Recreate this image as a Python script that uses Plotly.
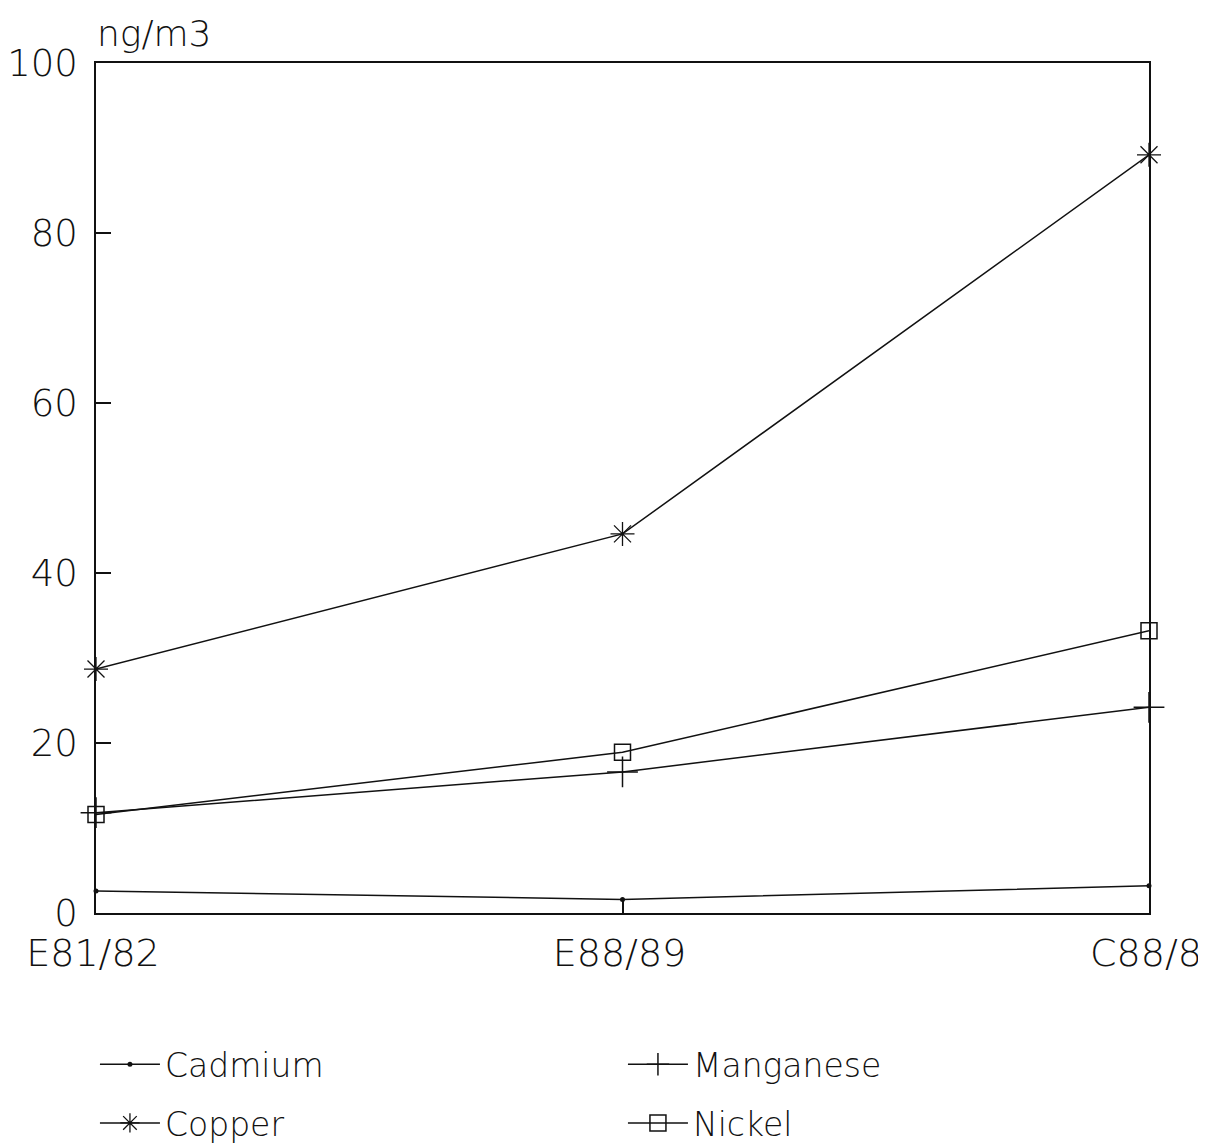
import plotly.graph_objects as go

# sampling campaigns
periods = ['E81/82', 'E88/89', 'C88/8']

# concentrations in ng/m3
cadmium = [2.6, 1.6, 3.2]
manganese = [11.8, 16.6, 24.2]
copper = [28.7, 44.6, 89.2]
nickel = [11.6, 18.9, 33.2]

FONT = 'DejaVu Sans'
INK = '#111111'

fig = go.Figure()

# two one-row legends: Cadmium | Manganese on top, Copper | Nickel below
series = [
    ('Cadmium', cadmium, 'legend', dict(symbol='circle', size=5, color=INK)),
    ('Manganese', manganese, 'legend', dict(symbol='cross-thin-open', size=22,
                                            line=dict(color=INK, width=1.5))),
    ('Copper', copper, 'legend2', dict(symbol='asterisk-open', size=20,
                                       line=dict(color=INK, width=1.3))),
    ('Nickel', nickel, 'legend2', dict(symbol='square-open', size=16,
                                       line=dict(color=INK, width=1.5))),
]

for name, vals, leg, mk in series:
    fig.add_trace(go.Scatter(
        x=periods, y=vals, name=name, mode='lines+markers', legend=leg,
        line=dict(color=INK, width=1.5),
        marker=mk,
        cliponaxis=False,
    ))

fig.update_xaxes(
    type='category', range=[0, 2], automargin=False,
    showline=True, linecolor=INK, linewidth=1.5, mirror=True,
    ticks='inside', ticklen=14, tickcolor=INK, tickwidth=1.5,
    showgrid=False, zeroline=False,
    tickfont=dict(family=FONT, size=38, color=INK, weight=200),
    ticklabelstandoff=6, ticklabelshift=-3,
)
fig.update_yaxes(
    range=[0, 100], dtick=20, automargin=False,
    showline=True, linecolor=INK, linewidth=1.5, mirror=True,
    ticks='inside', ticklen=15, tickcolor=INK, tickwidth=1.5,
    showgrid=False, zeroline=False,
    tickfont=dict(family=FONT, size=37, color=INK, weight=200),
    ticklabelstandoff=9,
)

fig.add_annotation(
    text='ng/m3', xref='paper', yref='paper', x=-0.001, y=1.008,
    xanchor='left', yanchor='bottom', showarrow=False,
    font=dict(family=FONT, size=36, color=INK, weight=200),
)

leg_style = dict(
    orientation='h', x=-0.001, xanchor='left', yanchor='middle',
    entrywidth=453, entrywidthmode='pixels', itemwidth=60,
    bgcolor='rgba(0,0,0,0)',
    font=dict(family=FONT, size=33, color=INK, weight=200),
)

# the page body adds an 8px offset, so the figure is drawn 8px smaller
fig.update_layout(
    width=1198, height=1136,
    margin=dict(l=88, r=57, t=55, b=231, autoexpand=False),
    paper_bgcolor='white', plot_bgcolor='white',
    showlegend=True,
    legend=dict(y=-0.178, **leg_style),
    legend2=dict(y=-0.247, **leg_style),
)

fig.write_html('out.html')
